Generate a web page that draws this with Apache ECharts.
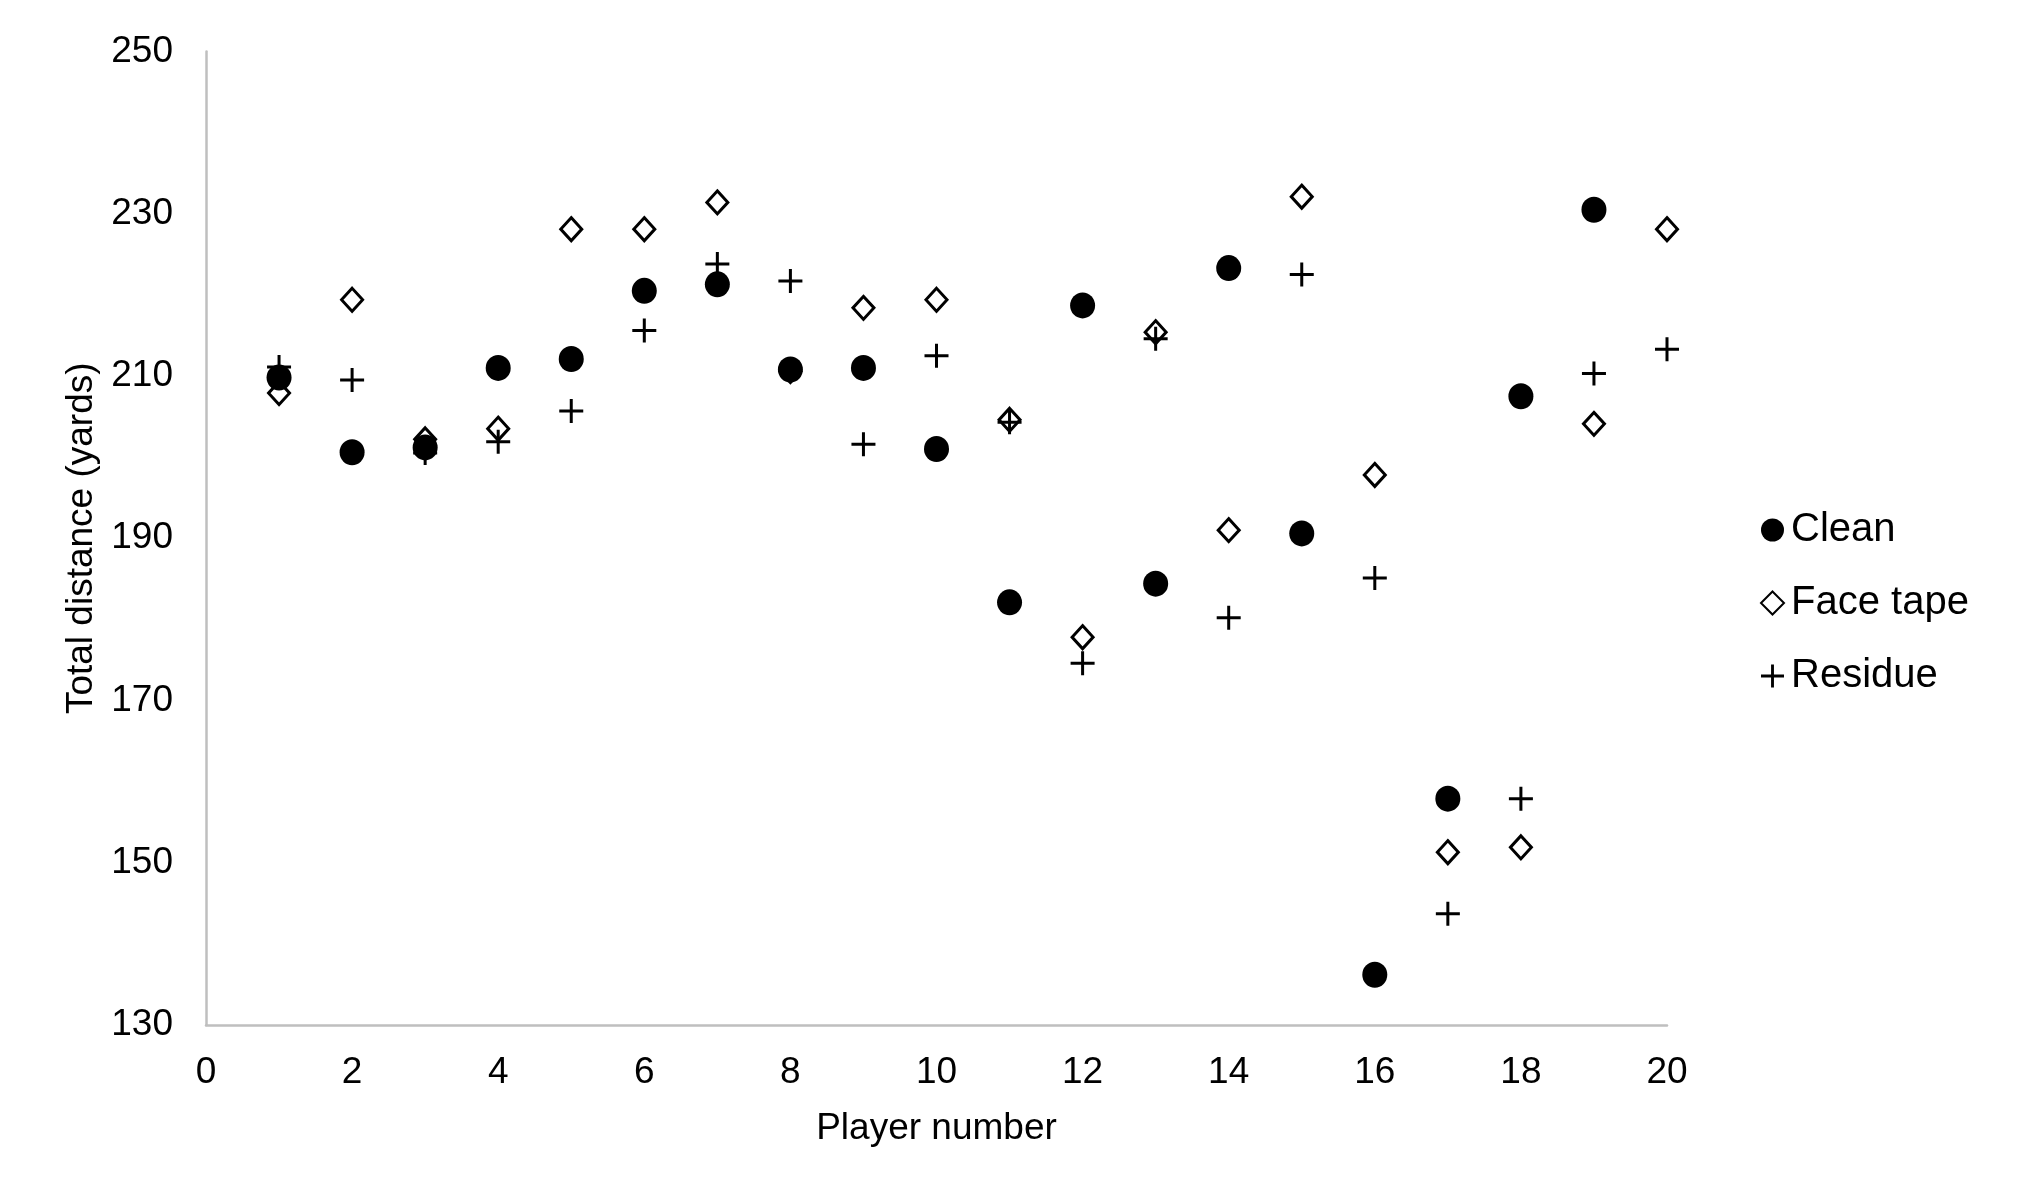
<!DOCTYPE html>
<html>
<head>
<meta charset="utf-8">
<script src="https://cdn.jsdelivr.net/npm/echarts@6/dist/echarts.min.js"></script>
<style>
html,body{margin:0;padding:0;background:#fff;}
#chart{width:2019px;height:1203px;}
</style>
</head>
<body>
<div id="chart"></div>
<script>
const players = [1,2,3,4,5,6,7,8,9,10,11,12,13,14,15,16,17,18,19,20];
const clean    = [209.8,200.6,201.2,211.0,212.1,220.5,221.3,210.8,211.0,201.0,182.1,218.7,184.4,223.3,190.6,136.2,157.9,207.5,230.5,null];
const faceTape = [207.9,219.4,202.2,203.5,228.1,228.1,231.4,210.6,218.4,219.4,204.6,177.8,215.4,191.0,232.1,197.8,151.3,151.9,204.1,228.1];
const residue  = [211.1,209.5,200.5,201.9,205.7,215.6,223.8,221.7,201.6,212.5,204.3,174.6,214.6,180.2,222.5,185.1,143.7,157.9,210.3,213.3];
const xTicks = {min:0, max:20, interval:2};
const yTicks = {min:130, max:250, interval:20};

function pairs(vals){
  const out = [];
  players.forEach((p,i)=>{ if (vals[i] !== null) out.push([p, vals[i]]); });
  return out;
}

const FONT = '"Liberation Sans", Arial, sans-serif';
const plusPath = 'path://M10.5,0h3v24h-3z M0,10.5h24v3h-24z';

const chart = echarts.init(document.getElementById('chart'));
chart.setOption({
  backgroundColor:'#ffffff',
  animation:false,
  textStyle:{fontFamily:FONT, color:'#000'},
  grid:{left:206, right:352, top:51.5, bottom:178, containLabel:false},
  legend:{
    orient:'vertical',
    left:1755, top:505,
    itemWidth:23, itemHeight:23, itemGap:33,
    textStyle:{fontFamily:FONT, fontSize:40, color:'#000', lineHeight:40, padding:[0,0,0,2]},
    data:['Clean','Face tape','Residue']
  },
  xAxis:{
    type:'value', min:xTicks.min, max:xTicks.max, interval:xTicks.interval,
    name:'Player number', nameLocation:'middle', nameGap:85,
    nameTextStyle:{fontFamily:FONT, fontSize:37, color:'#000'},
    axisLine:{show:true, lineStyle:{color:'#bfbfbf', width:2.5}},
    axisTick:{show:false},
    splitLine:{show:false},
    axisLabel:{fontFamily:FONT, fontSize:37, color:'#000', margin:29}
  },
  yAxis:{
    type:'value', min:yTicks.min, max:yTicks.max, interval:yTicks.interval,
    name:'Total distance (yards)', nameLocation:'middle', nameGap:106, nameRotate:90,
    nameTextStyle:{fontFamily:FONT, fontSize:37, color:'#000'},
    axisLine:{show:true, lineStyle:{color:'#bfbfbf', width:2.5}},
    axisTick:{show:false},
    splitLine:{show:false},
    axisLabel:{fontFamily:FONT, fontSize:37, color:'#000', margin:33}
  },
  series:[
    {name:'Clean', type:'scatter', data:pairs(clean), symbol:'circle', symbolSize:[25,26],
     itemStyle:{color:'#000', opacity:1}, z:2},
    {name:'Face tape', type:'scatter', data:pairs(faceTape), symbol:'diamond', symbolSize:[21,23],
     itemStyle:{color:'rgba(255,255,255,0)', borderColor:'#000', borderWidth:3, opacity:1}, z:3},
    {name:'Residue', type:'scatter', data:pairs(residue), symbol:plusPath, symbolSize:24,
     itemStyle:{color:'#000', opacity:1}, z:4}
  ]
});
</script>
</body>
</html>
